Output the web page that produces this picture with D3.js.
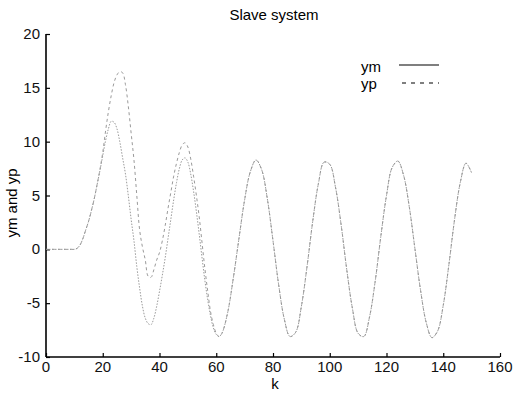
<!DOCTYPE html>
<html>
<head>
<meta charset="utf-8">
<script src="https://cdnjs.cloudflare.com/ajax/libs/d3/7.8.5/d3.min.js"></script>
<style>
    body { margin: 0; background: #fff; }
    text { font-family: "Liberation Sans", Arial, sans-serif; }
</style>
</head>
<body>
<script>
/* ========================== Data ========================= */
// sample index k
var kValues = [
    0, 1, 2, 3, 4, 5, 6, 7, 8, 9, 10, 11, 12, 13, 14, 15, 16, 17, 18, 19,
    20, 21, 22, 23, 24, 25, 26, 27, 28, 29, 30, 31, 32, 33, 34, 35, 36, 37, 38, 39,
    40, 41, 42, 43, 44, 45, 46, 47, 48, 49, 50, 51, 52, 53, 54, 55, 56, 57, 58, 59,
    60, 61, 62, 64, 66, 68, 70, 72, 74, 76, 78, 80, 82, 84, 86, 88, 90, 92, 94, 96,
    98, 100, 102, 104, 106, 108, 110, 112, 114, 116, 118, 120, 122, 124, 126, 128,
    130, 132, 134, 136, 138, 140, 142, 144, 146, 148, 150
];
// reference model output (solid)
var ymValues = [
    0, 0, 0, 0, 0, 0, 0, 0, 0, 0, 0, 0.1, 0.4, 1.0, 1.8, 2.6, 3.6, 4.7, 6.0, 7.3,
    8.7, 10.1, 11.2, 11.9, 11.8, 11.2, 10.0, 8.5, 7.0, 5.0, 2.8, 0.8, -1.6, -3.6, -5.3, -6.4, -6.9, -7.0, -6.4, -5.3,
    -3.9, -2.4, -0.8, 1.0, 2.8, 4.6, 6.2, 7.5, 8.3, 8.5, 8.1, 7.0, 5.4, 3.5, 1.4, -0.8, -2.9, -4.7, -6.2, -7.3,
    -7.9, -8.1, -7.8, -5.9, -2.7, 1.0, 4.6, 7.2, 8.3, 7.4, 4.7, 0.8, -3.3, -6.5, -8.1, -7.7, -5.3, -1.6, 2.6, 6.1,
    8.1, 7.9, 5.8, 2.3, -1.9, -5.5, -7.8, -8.1, -6.3, -3.0, 1.2, 5.0, 7.6, 8.2, 6.9, 4.0,
    0.1, -3.8, -6.8, -8.2, -7.6, -5.2, -1.4, 2.8, 6.2, 8.0, 7.1
];
// plant output (dashed)
var ypValues = [
    0, 0, 0, 0, 0, 0, 0, 0, 0, 0, 0, 0.1, 0.4, 1.0, 1.8, 2.6, 3.6, 4.7, 6.0, 7.4,
    9.0, 11.0, 12.8, 14.3, 15.5, 16.2, 16.5, 16.4, 15.3, 13.3, 10.8, 8.3, 5.0, 1.8, 0.2, -1.0, -2.5, -2.6, -1.9, -1.0,
    -0.3, 0.8, 2.2, 3.8, 5.3, 6.8, 8.0, 9.0, 9.7, 9.9, 9.5, 8.4, 6.8, 5.0, 3.0, 0.6, -1.8, -3.9, -5.8, -7.0,
    -7.8, -8.1, -7.8, -5.9, -2.7, 1.0, 4.6, 7.2, 8.3, 7.4, 4.7, 0.8, -3.3, -6.5, -8.1, -7.7, -5.3, -1.6, 2.6, 6.1,
    8.1, 7.9, 5.8, 2.3, -1.9, -5.5, -7.8, -8.1, -6.3, -3.0, 1.2, 5.0, 7.6, 8.2, 6.9, 4.0,
    0.1, -3.8, -6.8, -8.2, -7.6, -5.2, -1.4, 2.8, 6.2, 8.0, 7.1
];
var xTicks = [0, 20, 40, 60, 80, 100, 120, 140, 160];
var yTicks = [-10, -5, 0, 5, 10, 15, 20];
var seriesNames = ["ym", "yp"];

/* ========= Constants ========= */
var w = 515;
var h = 393;
// plot box (window.top is reserved, so no bare "top")
var plotLeft = 46, plotRight = 500, plotTop = 34, plotBottom = 357;
var fontSize = "15px";
var curveColor = "#9a9a9a";

/* ========= Create SVG ========= */
var svg = d3.select("body")
    .append("svg")
    .attr("width", w)
    .attr("height", h);

var xScale = d3.scaleLinear()
    .domain([0, 160])
    .range([plotLeft, plotRight]);
var yScale = d3.scaleLinear()
    .domain([-10, 20])
    .range([plotBottom, plotTop]);

/* ========= Axes (ticks point inward) ========= */
var xAxis = d3.axisTop(xScale)
    .tickValues(xTicks)
    .tickSize(4)
    .tickFormat("");
var yAxis = d3.axisRight(yScale)
    .tickValues(yTicks)
    .tickSize(4)
    .tickFormat("");

svg.append("g")
    .attr("transform", "translate(0," + plotBottom + ")")
    .call(xAxis);
svg.append("g")
    .attr("transform", "translate(" + plotLeft + ",0)")
    .call(yAxis);
svg.selectAll(".domain").remove();
svg.selectAll(".tick line").attr("stroke", "#000").attr("stroke-width", 1.2);

// axis lines
svg.append("line")
    .attr("x1", xScale(0)).attr("x2", xScale(160))
    .attr("y1", yScale(-10)).attr("y2", yScale(-10))
    .attr("stroke", "#000").attr("stroke-width", 1.6);
svg.append("line")
    .attr("x1", xScale(0)).attr("x2", xScale(0))
    .attr("y1", yScale(-10)).attr("y2", yScale(20))
    .attr("stroke", "#000").attr("stroke-width", 1.6);

// tick labels
svg.selectAll(".xlab")
    .data(xTicks)
    .enter().append("text")
    .attr("x", function (d) { return xScale(d); })
    .attr("y", plotBottom + 15)
    .attr("text-anchor", "middle")
    .attr("font-size", fontSize)
    .attr("fill", "#111")
    .text(function (d) { return d; });
svg.selectAll(".ylab")
    .data(yTicks)
    .enter().append("text")
    .attr("x", plotLeft - 6)
    .attr("y", function (d) { return yScale(d) + 5; })
    .attr("text-anchor", "end")
    .attr("font-size", fontSize)
    .attr("fill", "#111")
    .text(function (d) { return d; });

/* ========= Titles ========= */
svg.append("text")
    .attr("x", 274)
    .attr("y", 20)
    .attr("text-anchor", "middle")
    .attr("font-size", fontSize)
    .text("Slave system");
svg.append("text")
    .attr("x", 275)
    .attr("y", 389)
    .attr("text-anchor", "middle")
    .attr("font-size", fontSize)
    .text("k");
svg.append("text")
    .attr("transform", "translate(17,203) rotate(-90)")
    .attr("text-anchor", "middle")
    .attr("font-size", fontSize)
    .text("ym and yp");

/* ========= Lines ========= */
function makeLine(values) {
    return d3.line()
        .x(function (d, i) { return xScale(kValues[i]); })
        .y(function (d) { return yScale(d); })
        .curve(d3.curveCatmullRom)(values);
}
svg.append("path")
    .attr("d", makeLine(ymValues))
    .attr("fill", "none")
    .attr("stroke", curveColor)
    .attr("stroke-width", 1)
    .attr("stroke-dasharray", "1.5,1.5");
svg.append("path")
    .attr("d", makeLine(ypValues))
    .attr("fill", "none")
    .attr("stroke", curveColor)
    .attr("stroke-width", 1)
    .attr("stroke-dasharray", "3,3");

/* ========= Legend ========= */
var legendDash = ["none", "4,5"];
seriesNames.forEach(function (name, i) {
    var ly = 67 + i * 17;
    svg.append("text")
        .attr("x", 361)
        .attr("y", ly + 5)
        .attr("font-size", fontSize)
        .text(name);
    svg.append("line")
        .attr("x1", 399 + i * 3).attr("x2", 439)
        .attr("y1", ly - 2 + i * 1).attr("y2", ly - 2 + i * 1)
        .attr("stroke", "#000")
        .attr("stroke-width", 1.2)
        .attr("stroke-dasharray", legendDash[i]);
});
</script>
</body>
</html>
